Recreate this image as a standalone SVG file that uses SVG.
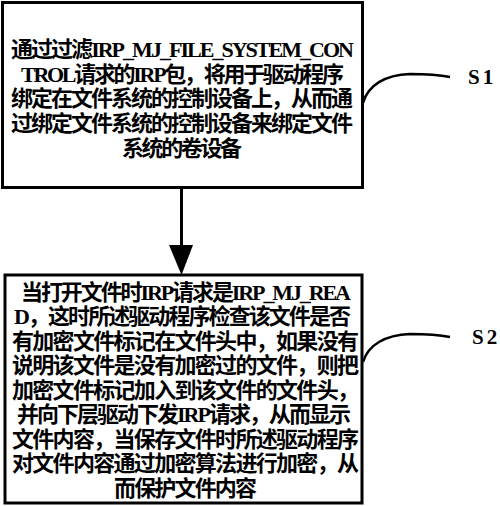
<svg xmlns="http://www.w3.org/2000/svg" width="500" height="506" viewBox="0 0 500 506">
<style>
.box{fill:#fff;stroke:#000;stroke-width:3}
.t{font-family:"Liberation Serif","Noto Sans CJK SC",serif;font-weight:bold;font-size:22px;fill:#000}
.lbl{font-family:"Liberation Serif",serif;font-weight:bold;font-size:21px;fill:#000;letter-spacing:3px}
.lead{fill:none;stroke:#000;stroke-width:2.5}
.edge{stroke:#000;stroke-width:3}
</style>
<rect width="500" height="506" fill="#fff"/>
<g id="connectors">
<line class="edge" x1="181.5" y1="188" x2="181.5" y2="250"/>
<polygon points="169,245 193,245 181.5,275" fill="#000"/>
</g>
<g id="S1">
<rect class="box" x="2.5" y="2.5" width="360" height="185"/>
<text class="t" x="11" y="57" textLength="343" lengthAdjust="spacing">通过过滤IRP_MJ_FILE_SYSTEM_CON</text>
<text class="t" x="21" y="82" textLength="323" lengthAdjust="spacing">TROL请求的IRP包，将用于驱动程序</text>
<text class="t" x="11" y="106" textLength="342" lengthAdjust="spacing">绑定在文件系统的控制设备上，从而通</text>
<text class="t" x="11" y="131" textLength="342" lengthAdjust="spacing">过绑定文件系统的控制设备来绑定文件</text>
<text class="t" x="122" y="156" textLength="120" lengthAdjust="spacing">系统的卷设备</text>
<path class="lead" d="M363,103 C368,85 385,75 410,74 C430,74 445,76 450,77"/>
<text class="lbl" x="468" y="84">S1</text>
</g>
<g id="S2">
<rect class="box" x="5" y="275" width="357" height="228"/>
<text class="t" x="21" y="300" textLength="330" lengthAdjust="spacing">当打开文件时IRP请求是IRP_MJ_REA</text>
<text class="t" x="14" y="324" textLength="337" lengthAdjust="spacing">D，这时所述驱动程序检查该文件是否</text>
<text class="t" x="12" y="349" textLength="347" lengthAdjust="spacing">有加密文件标记在文件头中，如果没有</text>
<text class="t" x="12" y="373" textLength="347" lengthAdjust="spacing">说明该文件是没有加密过的文件，则把</text>
<text class="t" x="12" y="398" textLength="347" lengthAdjust="spacing">加密文件标记加入到该文件的文件头，</text>
<text class="t" x="17" y="422" textLength="334" lengthAdjust="spacing">并向下层驱动下发IRP请求，从而显示</text>
<text class="t" x="12" y="447" textLength="347" lengthAdjust="spacing">文件内容，当保存文件时所述驱动程序</text>
<text class="t" x="12" y="471" textLength="347" lengthAdjust="spacing">对文件内容通过加密算法进行加密，从</text>
<text class="t" x="114" y="496" textLength="143" lengthAdjust="spacing">而保护文件内容</text>
<path class="lead" d="M363,362 C368,345 385,335 410,334 C430,334 445,336 450,337"/>
<text class="lbl" x="472" y="344">S2</text>
</g>
</svg>
